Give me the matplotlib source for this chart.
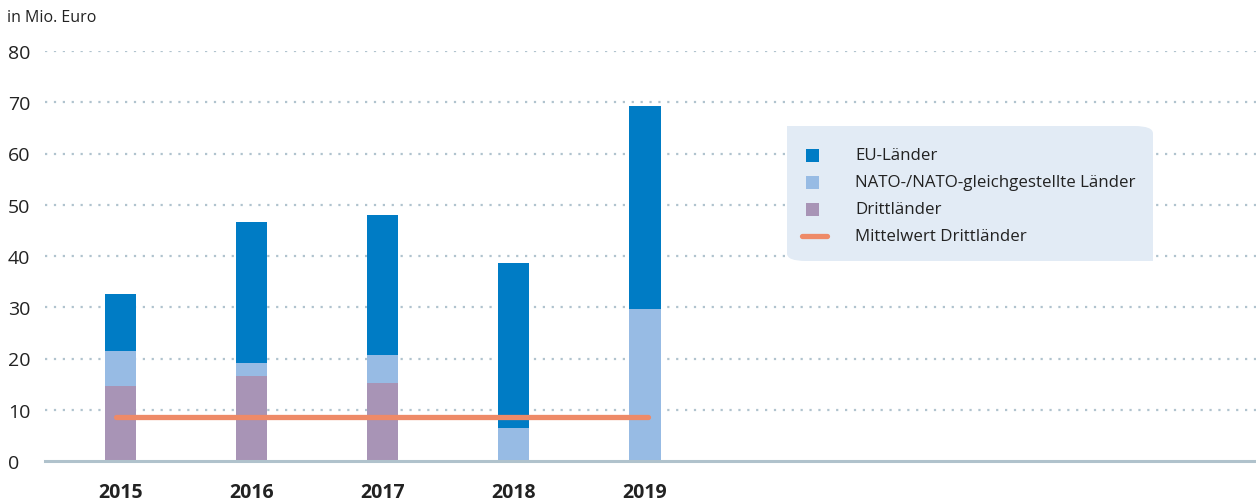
import matplotlib
matplotlib.use("Agg")
import matplotlib.pyplot as plt
from matplotlib.patches import FancyBboxPatch, Rectangle
from matplotlib.lines import Line2D

years = ["2015", "2016", "2017", "2018", "2019"]
eu = [11.1, 27.5, 27.3, 32.2, 39.6]
nato = [6.9, 2.5, 5.5, 6.4, 29.7]
dritt = [14.6, 16.6, 15.2, 0.0, 0.0]
mean_dritt = 8.6
yticks = [0, 10, 20, 30, 40, 50, 60, 70, 80]
legend_labels = ["EU-Länder", "NATO-/NATO-gleichgestellte Länder", "Drittländer", "Mittelwert Drittländer"]

c_eu = "#007cc5"
c_nato = "#97bbe4"
c_dritt = "#a894b6"
c_mean = "#ee8a68"
c_grid = "#b0c3ce"
c_text = "#222222"
c_legbg = "#e2ebf5"

plt.rcParams['font.family'] = ['Open Sans', 'DejaVu Sans']

fig = plt.figure(figsize=(12.56, 5.02), dpi=100)
ax = fig.add_axes([45/1256, 1-462/502, 1-45/1256, (462-52)/502])

x = list(range(len(years)))
w = 31/131
ax.bar(x, dritt, width=w, color=c_dritt, zorder=3)
ax.bar(x, nato, width=w, bottom=dritt, color=c_nato, zorder=3)
bot2 = [a + b for a, b in zip(dritt, nato)]
ax.bar(x, eu, width=w, bottom=bot2, color=c_eu, zorder=3)

ax.plot([x[0] - 0.03, x[-1] + 0.02], [mean_dritt, mean_dritt], color=c_mean,
        lw=3.8, solid_capstyle='round', zorder=4)

ax.set_xlim(-75/131, (1254-120)/131)
ax.set_ylim(0, 80)
for v in yticks[1:]:
    ax.axhline(v, color=c_grid, lw=1.6, linestyle=(0, (1, 3)), zorder=1)
ax.axhline(0, color="#b0c2cc", lw=2.2, zorder=5, clip_on=False)

for s in ax.spines.values():
    s.set_visible(False)
ax.set_yticks(yticks)
ax.set_yticklabels([str(v) for v in yticks], fontsize=14, color=c_text)
for lab in ax.get_yticklabels():
    lab.set_horizontalalignment('left')
ax.tick_params(axis='y', length=0, pad=37*72/100)
ax.set_xticks(x)
ax.set_xticklabels(years, fontsize=14, fontweight='bold', color=c_text)
ax.tick_params(axis='x', length=0, pad=15)

fig.text(7/1256, 1-18/502, "in Mio. Euro", fontsize=11.5, color=c_text, va='center', ha='left')

# legend box (rounded top-right and bottom-left corners)
lx0, ly0, lx1, ly1 = 787, 127, 1153, 262
box = FancyBboxPatch((lx0/1256, 1-ly1/502), (lx1-lx0)/1256, (ly1-ly0)/502,
                     boxstyle="round,pad=0,rounding_size=0.015",
                     transform=fig.transFigure, facecolor=c_legbg, edgecolor='none', zorder=10)
fig.patches.append(box)
for (cx, cy) in [(lx0, ly0), (lx1 - 25, ly1 - 25)]:
    fig.patches.append(Rectangle((cx/1256, 1-(cy+25)/502), 25/1256, 25/502,
                                 transform=fig.transFigure, facecolor=c_legbg,
                                 edgecolor='none', zorder=10))
rows = [156, 183, 210, 237]
colors = [c_eu, c_nato, c_dritt]
for i, lab in enumerate(legend_labels):
    yy = 1 - rows[i]/502
    if i < 3:
        sq = Rectangle(((812-6.5)/1256, yy - 6.5/502), 13/1256, 13/502,
                       transform=fig.transFigure, facecolor=colors[i], edgecolor='none', zorder=11)
        fig.patches.append(sq)
    else:
        fig.lines.append(Line2D([802/1256, 827/1256], [yy, yy], transform=fig.transFigure,
                                color=c_mean, lw=3.8, solid_capstyle='round', zorder=11))
    fig.text(855/1256, yy, lab, fontsize=12.2, color=c_text, va='center', ha='left', zorder=12)

fig.savefig("out.png", dpi=100)
